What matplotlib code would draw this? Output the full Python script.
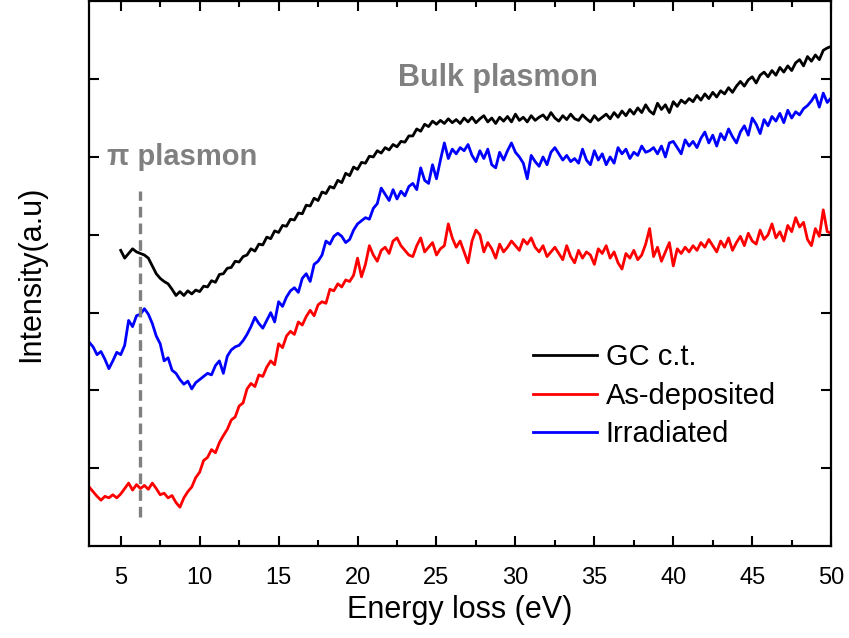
import numpy as np
import matplotlib
matplotlib.use("Agg")
import matplotlib.pyplot as plt

plt.rcParams['font.family'] = ['Liberation Sans', 'DejaVu Sans']

# EELS spectra, intensity in arbitrary units (0.25 eV step)
gc_start, gc_end = 5.0, 50.0
gc_ct = [3.80, 3.70, 3.76, 3.82, 3.78, 3.76, 3.74, 3.70, 3.60, 3.50, 3.44, 3.40, 3.37, 3.30, 3.22, 3.27,
         3.22, 3.28, 3.24, 3.29, 3.27, 3.34, 3.33, 3.41, 3.39, 3.49, 3.50, 3.57, 3.58, 3.66, 3.65, 3.72,
         3.74, 3.82, 3.79, 3.88, 3.87, 3.97, 3.95, 4.05, 4.03, 4.12, 4.11, 4.20, 4.19, 4.28, 4.27, 4.38,
         4.37, 4.47, 4.44, 4.55, 4.53, 4.62, 4.60, 4.70, 4.67, 4.79, 4.76, 4.87, 4.84, 4.93, 4.92, 5.01,
         5.00, 5.08, 5.05, 5.12, 5.09, 5.16, 5.13, 5.20, 5.19, 5.27, 5.27, 5.36, 5.33, 5.42, 5.39, 5.46,
         5.42, 5.47, 5.43, 5.49, 5.44, 5.48, 5.43, 5.50, 5.45, 5.51, 5.44, 5.49, 5.53, 5.45, 5.50, 5.43,
         5.51, 5.46, 5.52, 5.45, 5.55, 5.47, 5.51, 5.45, 5.53, 5.47, 5.51, 5.54, 5.48, 5.57, 5.50, 5.46,
         5.53, 5.48, 5.55, 5.49, 5.47, 5.54, 5.49, 5.45, 5.53, 5.47, 5.51, 5.55, 5.49, 5.57, 5.51, 5.59,
         5.53, 5.61, 5.55, 5.63, 5.57, 5.67, 5.59, 5.55, 5.69, 5.61, 5.67, 5.57, 5.71, 5.65, 5.73, 5.69,
         5.75, 5.71, 5.79, 5.73, 5.81, 5.75, 5.83, 5.77, 5.85, 5.81, 5.89, 5.83, 5.91, 5.97, 5.91, 5.99,
         6.03, 5.95, 6.05, 6.09, 6.03, 6.11, 6.05, 6.15, 6.09, 6.17, 6.11, 6.21, 6.25, 6.17, 6.29, 6.23,
         6.31, 6.25, 6.37, 6.40, 6.42]

film_start, film_end = 3.0, 50.0
as_deposited = [0.76, 0.70, 0.64, 0.59, 0.64, 0.62, 0.66, 0.62, 0.67, 0.74, 0.81, 0.72, 0.79, 0.74, 0.78, 0.73,
                0.81, 0.74, 0.66, 0.68, 0.62, 0.65, 0.56, 0.50, 0.62, 0.70, 0.76, 0.88, 0.95, 1.10, 1.14, 1.24,
                1.20, 1.33, 1.42, 1.50, 1.62, 1.66, 1.80, 1.84, 2.02, 2.09, 2.05, 2.20, 2.18, 2.30, 2.38, 2.33,
                2.60, 2.55, 2.70, 2.76, 2.72, 2.88, 2.84, 2.95, 3.03, 2.96, 3.10, 3.14, 3.12, 3.30, 3.28, 3.37,
                3.33, 3.42, 3.40, 3.48, 3.70, 3.46, 3.62, 3.86, 3.74, 3.66, 3.80, 3.84, 3.76, 3.92, 3.96, 3.86,
                3.80, 3.74, 3.72, 3.86, 3.96, 3.78, 3.84, 3.90, 3.74, 3.82, 3.86, 4.14, 3.96, 3.84, 3.92, 3.78,
                3.64, 3.92, 4.06, 4.00, 3.78, 3.90, 3.82, 3.70, 3.88, 3.78, 3.84, 3.92, 3.86, 3.80, 3.94, 3.88,
                3.96, 3.84, 3.78, 3.86, 3.72, 3.78, 3.84, 3.76, 3.68, 3.86, 3.72, 3.64, 3.80, 3.70, 3.78, 3.74,
                3.62, 3.82, 3.76, 3.86, 3.70, 3.78, 3.64, 3.56, 3.76, 3.70, 3.80, 3.68, 3.74, 3.88, 4.08, 3.72,
                3.84, 3.66, 3.78, 3.90, 3.60, 3.82, 3.76, 3.84, 3.78, 3.86, 3.80, 3.90, 3.84, 3.94, 3.86, 3.78,
                3.92, 3.84, 3.96, 3.80, 3.90, 3.98, 3.86, 4.02, 3.92, 3.88, 4.06, 3.94, 4.00, 4.14, 3.96, 4.04,
                3.92, 4.12, 4.04, 4.22, 4.10, 4.16, 3.94, 3.86, 4.08, 3.98, 4.32, 4.04, 4.02]
irradiated = [2.62, 2.56, 2.46, 2.50, 2.40, 2.28, 2.38, 2.49, 2.46, 2.58, 2.90, 2.82, 2.96, 2.98, 3.05, 2.98,
              2.86, 2.70, 2.60, 2.38, 2.42, 2.26, 2.22, 2.14, 2.08, 2.12, 2.02, 2.10, 2.14, 2.18, 2.22, 2.20,
              2.32, 2.38, 2.22, 2.44, 2.52, 2.56, 2.58, 2.64, 2.72, 2.82, 2.94, 2.86, 2.80, 2.90, 3.00, 2.88,
              3.14, 3.08, 3.20, 3.28, 3.32, 3.26, 3.44, 3.50, 3.40, 3.62, 3.66, 3.74, 3.92, 3.88, 3.98, 4.02,
              3.98, 3.90, 3.94, 4.06, 4.14, 4.18, 4.22, 4.20, 4.34, 4.40, 4.60, 4.52, 4.44, 4.58, 4.46, 4.56,
              4.50, 4.62, 4.66, 4.58, 4.86, 4.70, 4.66, 4.90, 4.72, 4.96, 5.18, 4.98, 5.10, 5.04, 5.12, 5.08,
              5.16, 5.02, 4.94, 5.08, 4.98, 5.10, 4.90, 4.86, 5.06, 4.96, 5.08, 5.18, 5.06, 5.00, 4.92, 4.72,
              5.02, 4.94, 4.88, 5.00, 4.90, 5.06, 5.12, 5.04, 4.96, 5.02, 4.94, 4.98, 4.92, 5.10, 4.96, 4.90,
              5.08, 4.96, 5.04, 4.90, 5.00, 4.92, 5.12, 5.04, 5.10, 4.98, 5.06, 5.02, 5.14, 5.06, 5.08, 5.12,
              5.04, 5.14, 5.00, 5.18, 5.20, 5.12, 5.04, 5.22, 5.14, 5.20, 5.12, 5.24, 5.32, 5.18, 5.28, 5.14,
              5.30, 5.22, 5.36, 5.26, 5.18, 5.32, 5.40, 5.28, 5.50, 5.42, 5.30, 5.48, 5.40, 5.52, 5.46, 5.56,
              5.44, 5.60, 5.50, 5.58, 5.54, 5.62, 5.66, 5.72, 5.80, 5.64, 5.82, 5.70, 5.76]

labels = ['GC c.t.', 'As-deposited', 'Irradiated']
pi_plasmon_energy = 6.2

e_gc = np.linspace(gc_start, gc_end, len(gc_ct))
e_dep = np.linspace(film_start, film_end, len(as_deposited))
e_irr = np.linspace(film_start, film_end, len(irradiated))

fig = plt.figure(figsize=(8.49, 6.38), dpi=100)
ax = fig.add_axes([0.105, 0.144, 0.874, 0.854])

ax.plot(e_gc, gc_ct, color='black', lw=2.0, label=labels[0])
ax.plot(e_dep, as_deposited, color='#ff0000', lw=2.0, label=labels[1])
ax.plot(e_irr, irradiated, color='#0000ff', lw=2.0, label=labels[2])

# pi plasmon marker
ax.plot([pi_plasmon_energy, pi_plasmon_energy], [0.38, 4.56], color='#808080', lw=2.4,
        linestyle=(0, (3.2, 1.8)))
ax.text(4.1, 5.0, 'π plasmon', color='#808080', fontsize=21, fontweight='bold',
        ha='left', va='center')
ax.text(28.9, 6.01, 'Bulk plasmon', color='#808080', fontsize=22, fontweight='bold',
        ha='center', va='center')

ax.set_xlim(3, 50)
ax.set_ylim(0, 7)
ax.set_xticks(np.arange(5, 51, 5))
ax.set_xticks(np.arange(7.5, 50, 5), minor=True)
ax.set_yticks(np.arange(1, 7))
ax.set_yticklabels([])

ax.tick_params(which='both', direction='in', top=True, right=True, width=1.5)
ax.tick_params(which='major', length=7, labelsize=17, pad=15)
ax.tick_params(which='minor', length=4)
for s in ax.spines.values():
    s.set_linewidth(1.6)

ax.set_xlabel('Energy loss (eV)', fontsize=22, labelpad=4)
ax.set_ylabel('Intensity(a.u)', fontsize=22, labelpad=16)

leg = ax.legend(loc='upper left', bbox_to_anchor=(0.598, 0.372), frameon=False,
                fontsize=21, handlelength=2.2, handletextpad=0.3, labelspacing=0.36,
                borderaxespad=0, borderpad=0)
for h in leg.get_lines():
    h.set_linewidth(2)

fig.savefig('out.png', dpi=100)
